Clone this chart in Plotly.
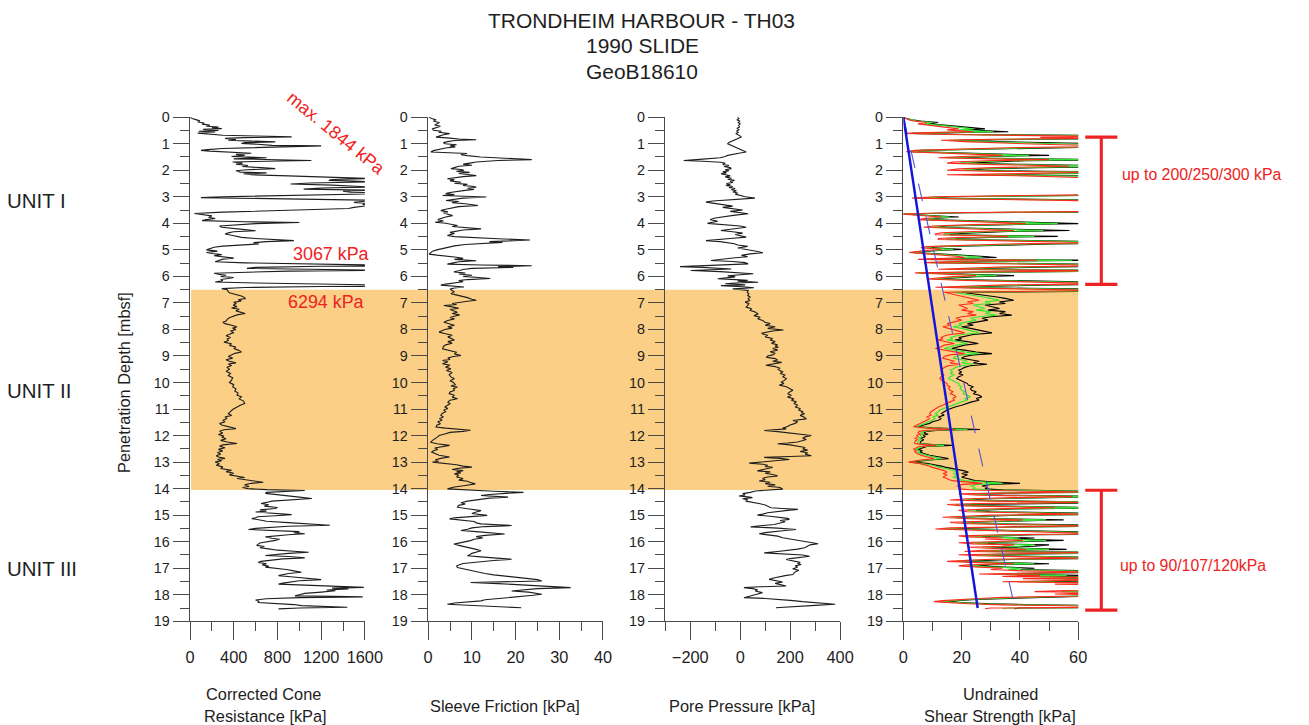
import plotly.graph_objects as go

# Layout helpers: positions below are given in window pixels of the final view.
VIEW_W, VIEW_H = 1309, 725
VIEW_SCALE = 0.978        # page-to-view scale of the viewer
PAGE_MARGIN = 8           # default body margin of the html page
FIG_W, FIG_H = 1322, 733
FONT = "Liberation Sans, Arial, sans-serif"
INK = "#1e1e1e"
AXIS = "#4a4a4a"
RED = "#ee2222"
BAND = "#fbcf86"

# ---------------------------------------------------------------------------
# CPTu profile GeoB18610 (depth [m], value)
# ---------------------------------------------------------------------------
qc_profile = [
    (0.00, 0), (0.05, 20), (0.10, 60), (0.14, 90), (0.18, 70), (0.22, 130), (0.26, 110), (0.30, 180),
    (0.34, 150), (0.37, 260), (0.40, 200), (0.43, 290), (0.46, 120), (0.50, 260), (0.53, 80), (0.56, 230),
    (0.60, 70), (0.64, 160), (0.68, 300), (0.71, 600), (0.74, 930), (0.77, 500), (0.80, 320), (0.84, 420),
    (0.87, 350), (0.90, 560), (0.93, 780), (0.96, 500), (0.99, 470), (1.02, 620), (1.06, 750), (1.08, 1200),
    (1.11, 900), (1.14, 480), (1.18, 300), (1.22, 160), (1.25, 100), (1.28, 180), (1.32, 350), (1.36, 560),
    (1.40, 420), (1.44, 500), (1.48, 380), (1.53, 700), (1.57, 400), (1.60, 820), (1.63, 1110), (1.66, 700),
    (1.69, 390), (1.73, 480), (1.77, 420), (1.82, 530), (1.86, 480), (1.90, 650), (1.94, 780), (1.98, 520),
    (2.02, 420), (2.07, 460), (2.10, 700), (2.13, 490), (2.17, 560), (2.21, 900), (2.25, 1250), (2.29, 1500),
    (2.31, 1650), (2.35, 1300), (2.38, 1270), (2.41, 1500), (2.44, 1650), (2.48, 1100), (2.52, 920), (2.56, 1300),
    (2.60, 1500), (2.63, 1650), (2.67, 1200), (2.71, 1040), (2.75, 1650), (2.79, 1400), (2.83, 1470), (2.86, 1844),
    (2.89, 1650), (2.92, 1200), (2.96, 700), (3.00, 300), (3.03, 100), (3.06, 500), (3.09, 1100), (3.13, 1650),
    (3.17, 1600), (3.21, 1500), (3.25, 1620), (3.29, 1580), (3.32, 1650), (3.36, 1550), (3.40, 1500), (3.44, 1450),
    (3.48, 1100), (3.53, 700), (3.58, 300), (3.63, 40), (3.67, 120), (3.72, 200), (3.77, 170), (3.82, 230),
    (3.86, 150), (3.90, 110), (3.94, 500), (3.97, 1000), (4.01, 600), (4.06, 350), (4.10, 270), (4.15, 290),
    (4.19, 420), (4.23, 480), (4.28, 600), (4.32, 400), (4.36, 350), (4.40, 320), (4.45, 380), (4.49, 420),
    (4.53, 470), (4.57, 600), (4.61, 780), (4.65, 950), (4.69, 700), (4.73, 580), (4.78, 630), (4.82, 450),
    (4.86, 300), (4.90, 220), (4.95, 180), (5.00, 150), (5.05, 250), (5.10, 150), (5.14, 200), (5.18, 290),
    (5.22, 220), (5.27, 320), (5.31, 400), (5.35, 300), (5.40, 260), (5.45, 230), (5.49, 500), (5.53, 1100),
    (5.57, 1650), (5.60, 3067), (5.62, 1200), (5.66, 600), (5.70, 520), (5.73, 1100), (5.77, 1650), (5.80, 900),
    (5.84, 400), (5.88, 220), (5.92, 260), (5.96, 330), (6.00, 280), (6.04, 400), (6.08, 350), (6.12, 280),
    (6.16, 300), (6.21, 230), (6.25, 600), (6.29, 1400), (6.32, 1650), (6.35, 6294), (6.38, 1200), (6.42, 500),
    (6.46, 290), (6.50, 340), (6.55, 345), (6.62, 360), (6.68, 420), (6.74, 470), (6.80, 500), (6.84, 505),
    (6.88, 440), (6.93, 470), (6.98, 400), (7.03, 420), (7.09, 395), (7.14, 430), (7.19, 380), (7.24, 450),
    (7.30, 420), (7.35, 470), (7.40, 505), (7.45, 430), (7.50, 390), (7.56, 360), (7.62, 340), (7.68, 330),
    (7.73, 300), (7.78, 320), (7.84, 380), (7.90, 430), (7.95, 390), (8.00, 420), (8.06, 370), (8.12, 400),
    (8.18, 360), (8.24, 330), (8.30, 370), (8.36, 340), (8.42, 350), (8.48, 310), (8.54, 380), (8.60, 360),
    (8.66, 420), (8.72, 400), (8.78, 440), (8.85, 470), (8.90, 410), (8.96, 380), (9.02, 350), (9.08, 390),
    (9.14, 330), (9.20, 360), (9.26, 420), (9.30, 350), (9.36, 380), (9.42, 340), (9.50, 360), (9.58, 330),
    (9.66, 370), (9.74, 350), (9.82, 390), (9.91, 380), (10.00, 360), (10.08, 400), (10.16, 390), (10.24, 420),
    (10.32, 410), (10.40, 440), (10.48, 430), (10.54, 470), (10.62, 450), (10.70, 490), (10.79, 500), (10.86, 460),
    (10.94, 420), (11.02, 390), (11.10, 370), (11.17, 350), (11.24, 380), (11.30, 320), (11.36, 340), (11.42, 300),
    (11.48, 320), (11.55, 270), (11.60, 290), (11.65, 330), (11.70, 380), (11.74, 420), (11.78, 310), (11.84, 270),
    (11.90, 300), (11.96, 260), (12.02, 310), (12.06, 290), (12.12, 330), (12.18, 280), (12.24, 340), (12.30, 430),
    (12.35, 300), (12.40, 270), (12.46, 320), (12.52, 260), (12.58, 300), (12.64, 250), (12.70, 280), (12.76, 240),
    (12.81, 260), (12.86, 320), (12.90, 250), (12.95, 290), (13.00, 230), (13.06, 270), (13.12, 240), (13.18, 300),
    (13.24, 280), (13.31, 380), (13.36, 330), (13.42, 400), (13.48, 360), (13.54, 440), (13.58, 500), (13.62, 430),
    (13.67, 520), (13.72, 600), (13.76, 670), (13.80, 560), (13.86, 500), (13.92, 540), (13.96, 480), (14.00, 530),
    (14.04, 700), (14.07, 1050), (14.10, 900), (14.14, 700), (14.18, 690), (14.22, 800), (14.27, 900), (14.32, 1000),
    (14.37, 1115), (14.42, 900), (14.47, 750), (14.52, 700), (14.56, 650), (14.61, 720), (14.66, 680), (14.71, 800),
    (14.75, 780), (14.80, 640), (14.85, 700), (14.88, 600), (14.93, 750), (14.98, 930), (15.02, 780), (15.06, 620),
    (15.10, 600), (15.13, 565), (15.18, 640), (15.23, 700), (15.28, 900), (15.33, 1100), (15.38, 1280), (15.42, 900),
    (15.46, 700), (15.50, 600), (15.54, 535), (15.58, 800), (15.62, 1000), (15.66, 950), (15.70, 1050), (15.74, 900),
    (15.78, 800), (15.82, 690), (15.87, 750), (15.91, 820), (15.95, 780), (16.00, 700), (16.05, 640), (16.10, 620),
    (16.14, 610), (16.18, 680), (16.23, 640), (16.27, 720), (16.32, 800), (16.36, 950), (16.40, 1085), (16.44, 900),
    (16.48, 760), (16.52, 690), (16.56, 900), (16.61, 1050), (16.65, 850), (16.70, 700), (16.74, 650), (16.78, 625),
    (16.83, 700), (16.88, 660), (16.92, 720), (16.96, 690), (17.00, 800), (17.05, 880), (17.10, 950), (17.15, 1020),
    (17.20, 900), (17.25, 850), (17.28, 810), (17.32, 920), (17.37, 1050), (17.43, 1200), (17.47, 1000), (17.52, 900),
    (17.56, 850), (17.60, 810), (17.64, 1100), (17.68, 1400), (17.72, 1590), (17.75, 1300), (17.78, 1450), (17.82, 1250),
    (17.85, 1330), (17.90, 1200), (17.95, 1050), (18.00, 1000), (18.04, 960), (18.06, 1300), (18.08, 1580), (18.11, 1000),
    (18.15, 700), (18.20, 600), (18.25, 630), (18.29, 625), (18.33, 800), (18.37, 950), (18.41, 1020), (18.44, 1250),
    (18.47, 1440), (18.50, 1000), (18.53, 810),
]

fs_profile = [
    (0.00, 0.2), (0.05, 0.8), (0.10, 1.8), (0.15, 1.2), (0.20, 2.6), (0.24, 2.2), (0.29, 1.5), (0.34, 2.8),
    (0.39, 1.9), (0.44, 1.0), (0.49, 1.2), (0.53, 3.0), (0.57, 2.4), (0.62, 4.9), (0.66, 3.5), (0.70, 2.6),
    (0.75, 1.8), (0.79, 5.0), (0.82, 7.0), (0.85, 11.0), (0.88, 6.0), (0.92, 4.5), (0.96, 3.5), (1.00, 3.9),
    (1.04, 6.5), (1.08, 5.0), (1.12, 6.2), (1.16, 4.0), (1.20, 2.5), (1.26, 1.2), (1.31, 0.6), (1.34, 5.0),
    (1.37, 8.9), (1.41, 7.5), (1.45, 9.0), (1.50, 12.0), (1.55, 17.0), (1.60, 23.7), (1.63, 16.0), (1.66, 12.0),
    (1.69, 11.0), (1.73, 9.5), (1.77, 8.0), (1.81, 10.0), (1.85, 7.0), (1.90, 6.0), (1.94, 5.2), (1.97, 7.5),
    (2.00, 8.2), (2.04, 6.5), (2.08, 9.5), (2.12, 7.0), (2.16, 9.0), (2.20, 11.0), (2.24, 8.0), (2.28, 6.0),
    (2.32, 4.4), (2.36, 6.0), (2.40, 5.0), (2.45, 7.5), (2.49, 6.0), (2.53, 9.0), (2.57, 8.0), (2.61, 10.5),
    (2.64, 11.0), (2.68, 9.0), (2.72, 10.5), (2.76, 8.5), (2.80, 6.5), (2.84, 5.0), (2.88, 4.0), (2.92, 6.0),
    (2.95, 3.3), (2.98, 9.0), (3.01, 13.3), (3.05, 8.0), (3.09, 6.0), (3.14, 4.1), (3.18, 7.0), (3.22, 5.5),
    (3.26, 8.5), (3.30, 10.0), (3.33, 11.4), (3.37, 7.0), (3.42, 5.0), (3.47, 4.0), (3.52, 2.9), (3.57, 4.5),
    (3.61, 3.5), (3.66, 4.8), (3.71, 5.6), (3.76, 4.0), (3.81, 3.0), (3.86, 2.2), (3.91, 3.5), (3.96, 1.6),
    (4.00, 4.0), (4.04, 5.0), (4.08, 6.7), (4.12, 5.5), (4.16, 9.0), (4.21, 12.1), (4.25, 8.0), (4.30, 6.5),
    (4.34, 5.0), (4.38, 6.0), (4.42, 5.2), (4.46, 4.4), (4.50, 6.0), (4.54, 10.0), (4.58, 16.0), (4.63, 23.3),
    (4.66, 20.0), (4.69, 14.0), (4.72, 17.0), (4.76, 11.0), (4.80, 8.5), (4.85, 6.0), (4.90, 4.5), (4.95, 3.0),
    (5.00, 2.0), (5.05, 1.0), (5.10, 0.5), (5.16, 0.2), (5.20, 2.0), (5.24, 4.9), (5.28, 6.5), (5.32, 8.0),
    (5.36, 6.0), (5.41, 11.0), (5.45, 7.0), (5.50, 5.5), (5.54, 4.4), (5.57, 12.0), (5.60, 23.7), (5.63, 16.0),
    (5.66, 19.5), (5.70, 10.0), (5.74, 8.0), (5.79, 7.0), (5.83, 5.9), (5.87, 8.5), (5.91, 7.0), (5.96, 10.0),
    (6.00, 8.0), (6.04, 11.5), (6.08, 14.2), (6.12, 9.0), (6.16, 7.0), (6.20, 8.0), (6.25, 5.0), (6.29, 4.0),
    (6.33, 2.9), (6.36, 5.5), (6.40, 8.2), (6.44, 6.0), (6.48, 5.0), (6.53, 5.5), (6.58, 6.0), (6.65, 5.2),
    (6.70, 6.5), (6.75, 8.0), (6.80, 9.0), (6.86, 10.0), (6.90, 11.0), (6.94, 9.0), (6.98, 7.0), (7.02, 5.5),
    (7.06, 6.5), (7.10, 3.6), (7.15, 5.5), (7.20, 7.0), (7.25, 5.0), (7.30, 6.0), (7.35, 6.7), (7.40, 5.5),
    (7.45, 7.2), (7.50, 6.0), (7.55, 5.0), (7.60, 6.0), (7.66, 4.5), (7.73, 3.6), (7.79, 5.0), (7.84, 6.0),
    (7.90, 4.5), (7.95, 5.5), (8.00, 3.8), (8.05, 3.0), (8.10, 2.5), (8.16, 4.0), (8.22, 5.5), (8.28, 4.5),
    (8.35, 5.2), (8.40, 6.0), (8.46, 4.5), (8.52, 5.5), (8.58, 4.0), (8.64, 3.5), (8.73, 3.3), (8.80, 5.0),
    (8.86, 6.5), (8.92, 6.0), (8.98, 7.5), (9.03, 5.5), (9.08, 4.5), (9.13, 5.0), (9.17, 3.3), (9.22, 4.5),
    (9.29, 3.3), (9.35, 5.0), (9.42, 4.0), (9.48, 5.2), (9.55, 4.2), (9.62, 5.5), (9.70, 4.8), (9.79, 5.2),
    (9.86, 6.0), (9.93, 5.0), (10.00, 5.8), (10.08, 6.2), (10.13, 5.2), (10.17, 6.7), (10.23, 5.8), (10.30, 6.0),
    (10.36, 5.0), (10.42, 4.8), (10.48, 6.0), (10.55, 5.5), (10.61, 6.7), (10.67, 5.0), (10.74, 4.5), (10.80, 5.0),
    (10.86, 4.4), (10.92, 3.8), (10.98, 4.5), (11.04, 3.6), (11.10, 4.0), (11.17, 3.2), (11.24, 2.9), (11.30, 3.5),
    (11.36, 2.6), (11.42, 3.2), (11.48, 2.2), (11.55, 2.8), (11.61, 2.0), (11.68, 1.8), (11.72, 4.0), (11.76, 7.5),
    (11.80, 9.7), (11.84, 8.0), (11.88, 5.0), (11.94, 3.8), (12.00, 2.5), (12.06, 2.1), (12.12, 1.5), (12.18, 1.0),
    (12.25, 0.6), (12.31, 2.0), (12.37, 4.9), (12.42, 3.0), (12.47, 1.5), (12.52, 2.2), (12.57, 1.2), (12.62, 0.8),
    (12.68, 1.5), (12.74, 2.5), (12.81, 4.9), (12.86, 2.8), (12.92, 1.6), (12.97, 2.4), (13.00, 1.0), (13.05, 4.0),
    (13.10, 6.5), (13.15, 8.0), (13.19, 10.0), (13.23, 7.0), (13.28, 5.5), (13.32, 8.0), (13.37, 6.5), (13.41, 7.5),
    (13.44, 6.0), (13.50, 7.0), (13.56, 6.5), (13.60, 7.5), (13.63, 8.0), (13.68, 7.0), (13.72, 9.0), (13.76, 9.5),
    (13.82, 10.8), (13.88, 8.5), (13.94, 6.0), (14.01, 4.4), (14.06, 9.0), (14.10, 15.0), (14.14, 21.8), (14.18, 16.0),
    (14.22, 14.0), (14.26, 12.1), (14.29, 15.0), (14.32, 18.3), (14.36, 14.0), (14.42, 11.0), (14.47, 9.0), (14.53, 7.5),
    (14.58, 8.5), (14.63, 7.0), (14.70, 6.7), (14.76, 9.0), (14.83, 12.1), (14.88, 11.0), (14.94, 10.0), (15.01, 13.5),
    (15.06, 9.0), (15.10, 6.0), (15.14, 4.9), (15.19, 8.0), (15.24, 10.5), (15.29, 11.0), (15.33, 12.1), (15.36, 16.0),
    (15.39, 19.1), (15.43, 13.0), (15.48, 10.0), (15.53, 9.0), (15.58, 7.5), (15.62, 11.0), (15.66, 14.0), (15.71, 17.5),
    (15.76, 13.0), (15.81, 11.0), (15.86, 12.5), (15.91, 10.5), (15.96, 9.7), (16.01, 8.0), (16.05, 7.0), (16.09, 5.9),
    (16.14, 7.0), (16.19, 8.5), (16.24, 10.0), (16.29, 11.0), (16.34, 12.1), (16.39, 11.0), (16.44, 10.0), (16.49, 9.5),
    (16.53, 9.0), (16.57, 12.0), (16.62, 15.0), (16.66, 19.1), (16.71, 15.0), (16.76, 11.0), (16.82, 8.0), (16.88, 7.0),
    (16.92, 6.5), (16.97, 6.7), (17.02, 8.0), (17.07, 9.5), (17.12, 10.5), (17.16, 11.3), (17.20, 13.0), (17.25, 15.0),
    (17.29, 17.5), (17.34, 20.0), (17.38, 23.0), (17.43, 25.0), (17.48, 26.0), (17.51, 15.0), (17.54, 9.7), (17.58, 16.0),
    (17.63, 22.0), (17.68, 28.0), (17.73, 32.6), (17.77, 25.0), (17.81, 22.0), (17.86, 19.1), (17.90, 23.0), (17.94, 25.0),
    (17.98, 26.0), (18.02, 24.0), (18.06, 21.0), (18.10, 18.0), (18.15, 14.0), (18.19, 13.0), (18.23, 12.1), (18.27, 9.0),
    (18.31, 6.0), (18.36, 4.4), (18.40, 10.0), (18.44, 16.0), (18.49, 21.3),
]

u2_profile = [
    (0.00, -10), (0.05, -5), (0.10, -12), (0.15, -2), (0.20, -8), (0.25, 0), (0.30, -6), (0.37, -3),
    (0.42, -12), (0.47, -5), (0.52, -14), (0.57, -8), (0.62, -16), (0.67, -4), (0.72, 2), (0.75, 4),
    (0.80, -10), (0.85, -20), (0.90, -35), (0.95, -45), (1.00, -50), (1.04, -40), (1.08, -30), (1.12, -23),
    (1.17, -10), (1.22, 5), (1.27, 15), (1.31, 24), (1.35, 0), (1.40, -30), (1.44, -50), (1.48, -60),
    (1.53, -80), (1.58, -150), (1.63, -226), (1.66, -150), (1.70, -77), (1.74, -60), (1.78, -70), (1.82, -45),
    (1.86, -65), (1.90, -40), (1.94, -36), (1.98, -60), (2.02, -45), (2.06, -70), (2.10, -55), (2.13, -77),
    (2.17, -50), (2.21, -40), (2.25, -60), (2.30, -35), (2.34, -50), (2.38, -23), (2.42, -40), (2.46, -30),
    (2.50, -55), (2.54, -40), (2.57, -57), (2.61, -30), (2.65, -45), (2.69, -20), (2.73, -35), (2.77, -15),
    (2.82, -29), (2.86, -10), (2.90, -20), (2.95, 0), (3.00, 20), (3.05, 59), (3.08, 0), (3.12, -60),
    (3.16, -110), (3.20, -137), (3.25, -100), (3.30, -60), (3.35, -30), (3.40, -70), (3.45, -20), (3.50, 10),
    (3.55, -40), (3.60, 0), (3.64, 32), (3.69, -20), (3.74, -60), (3.80, -100), (3.86, -120), (3.92, -90),
    (4.00, -131), (4.05, -60), (4.10, 0), (4.15, 24), (4.19, -10), (4.23, -50), (4.27, -77), (4.32, -30),
    (4.37, 10), (4.42, -20), (4.47, 5), (4.52, 24), (4.57, -40), (4.61, -100), (4.65, -137), (4.69, -80),
    (4.73, -40), (4.77, -23), (4.82, -10), (4.87, 30), (4.93, -10), (4.97, 20), (5.02, 50), (5.06, 70),
    (5.11, 91), (5.15, 40), (5.21, 5), (5.26, 30), (5.30, -20), (5.35, -70), (5.40, -117), (5.44, -30),
    (5.48, 20), (5.53, 32), (5.57, -60), (5.60, -180), (5.63, -241), (5.66, -150), (5.69, -80), (5.72, -36),
    (5.75, -120), (5.78, -198), (5.82, -80), (5.86, -10), (5.90, 52), (5.94, 0), (5.98, -50), (6.02, -20),
    (6.06, -70), (6.09, -90), (6.12, -20), (6.15, 30), (6.18, -10), (6.22, 72), (6.25, -20), (6.28, -60),
    (6.32, 20), (6.35, -77), (6.39, 10), (6.43, 55), (6.47, -30), (6.50, 10), (6.53, 32), (6.60, 28),
    (6.66, 35), (6.72, 30), (6.78, 40), (6.84, 32), (6.91, 38), (6.97, 20), (7.03, 35), (7.09, 30),
    (7.16, 24), (7.22, 45), (7.28, 40), (7.34, 60), (7.42, 72), (7.48, 55), (7.54, 80), (7.60, 70),
    (7.66, 90), (7.73, 99), (7.78, 120), (7.84, 100), (7.90, 140), (7.96, 110), (8.02, 173), (8.06, 130),
    (8.10, 100), (8.14, 86), (8.17, 90), (8.22, 110), (8.28, 100), (8.34, 130), (8.40, 120), (8.46, 140),
    (8.52, 125), (8.58, 150), (8.63, 140), (8.67, 153), (8.72, 130), (8.78, 150), (8.84, 120), (8.90, 140),
    (8.96, 130), (9.00, 110), (9.05, 106), (9.10, 140), (9.15, 150), (9.20, 130), (9.24, 166), (9.29, 140),
    (9.35, 103), (9.40, 140), (9.46, 160), (9.50, 150), (9.54, 157), (9.60, 170), (9.66, 160), (9.72, 180),
    (9.78, 170), (9.85, 185), (9.92, 177), (9.98, 165), (10.04, 175), (10.10, 157), (10.16, 185), (10.22, 195),
    (10.29, 211), (10.35, 200), (10.42, 190), (10.48, 205), (10.55, 190), (10.61, 215), (10.67, 205), (10.73, 225),
    (10.79, 215), (10.86, 231), (10.92, 220), (10.98, 240), (11.04, 235), (11.10, 250), (11.14, 245), (11.18, 258),
    (11.24, 240), (11.30, 255), (11.37, 265), (11.43, 211), (11.48, 230), (11.54, 220), (11.60, 200), (11.66, 190),
    (11.72, 170), (11.75, 184), (11.78, 130), (11.81, 96), (11.85, 150), (11.90, 200), (11.95, 250), (12.00, 285),
    (12.05, 260), (12.10, 250), (12.15, 265), (12.19, 244), (12.24, 230), (12.28, 190), (12.31, 150), (12.35, 200),
    (12.40, 240), (12.45, 260), (12.50, 251), (12.55, 270), (12.60, 240), (12.65, 270), (12.70, 260), (12.76, 285),
    (12.79, 200), (12.82, 96), (12.86, 160), (12.90, 197), (12.94, 150), (12.98, 100), (13.01, 60), (13.04, 36),
    (13.08, 90), (13.12, 110), (13.16, 100), (13.20, 130), (13.24, 110), (13.28, 90), (13.33, 69), (13.37, 120),
    (13.42, 100), (13.47, 130), (13.52, 150), (13.56, 110), (13.61, 90), (13.66, 100), (13.71, 76), (13.76, 120),
    (13.81, 100), (13.86, 140), (13.91, 110), (13.96, 160), (14.02, 170), (14.06, 100), (14.09, 62), (14.14, 40),
    (14.19, 10), (14.24, 20), (14.28, -5), (14.31, 30), (14.34, 49), (14.38, 10), (14.42, 30), (14.47, 22),
    (14.52, 60), (14.57, 80), (14.62, 100), (14.67, 110), (14.72, 123), (14.75, 170), (14.78, 231), (14.82, 190),
    (14.86, 140), (14.91, 110), (14.96, 90), (15.00, 69), (15.04, 120), (15.08, 170), (15.12, 190), (15.16, 197),
    (15.20, 160), (15.25, 180), (15.30, 150), (15.35, 137), (15.39, 90), (15.44, 42), (15.49, 150), (15.54, 224),
    (15.58, 180), (15.62, 120), (15.66, 100), (15.70, 76), (15.74, 120), (15.79, 150), (15.85, 170), (15.90, 200),
    (15.95, 220), (16.00, 250), (16.04, 290), (16.08, 312), (16.12, 280), (16.17, 270), (16.23, 258), (16.28, 230),
    (16.32, 200), (16.37, 150), (16.42, 96), (16.46, 200), (16.50, 250), (16.55, 278), (16.60, 220), (16.64, 200),
    (16.67, 184), (16.72, 210), (16.78, 240), (16.82, 230), (16.86, 244), (16.91, 220), (16.96, 230), (17.02, 210),
    (17.08, 235), (17.14, 220), (17.19, 215), (17.24, 211), (17.28, 180), (17.33, 150), (17.38, 130), (17.42, 116),
    (17.47, 150), (17.52, 170), (17.57, 140), (17.62, 170), (17.67, 184), (17.70, 80), (17.73, 15), (17.77, 50),
    (17.81, 70), (17.86, 60), (17.92, 89), (17.97, 70), (18.02, 50), (18.07, 30), (18.11, 15), (18.14, 100),
    (18.17, 170), (18.21, 200), (18.26, 250), (18.31, 330), (18.36, 380), (18.40, 300), (18.44, 200), (18.47, 160),
    (18.49, 143),
]

# Undrained shear strength for three cone factors (black / green / red)
su_depth_unit1 = [
    0.00, 0.05, 0.10, 0.15, 0.20, 0.25, 0.30, 0.35, 0.40, 0.44,
    0.48, 0.52, 0.55, 0.58, 0.61, 0.65, 0.68, 0.72, 0.76, 0.79,
    0.83, 0.87, 0.92, 0.97, 1.01, 1.05, 1.10, 1.14, 1.20, 1.25,
    1.30, 1.34, 1.39, 1.44, 1.48, 1.53, 1.57, 1.60, 1.64, 1.69,
    1.73, 1.78, 1.82, 1.85, 1.90, 1.95, 2.00, 2.04, 2.08, 2.13,
    2.17, 2.21, 2.25, 2.30, 2.35, 2.40, 2.45, 2.50, 2.55, 2.60,
    2.65, 2.70, 2.75, 2.80, 2.85, 2.90, 2.95, 3.00, 3.05, 3.10,
    3.15, 3.20, 3.25, 3.30, 3.35, 3.40, 3.45, 3.50, 3.55, 3.60,
    3.65, 3.70, 3.76, 3.81, 3.86, 3.91, 3.96, 4.01, 4.05, 4.10,
    4.15, 4.20, 4.24, 4.27, 4.31, 4.36, 4.40, 4.43, 4.46, 4.49,
    4.53, 4.57, 4.61, 4.65, 4.69, 4.73, 4.78, 4.83, 4.88, 4.92,
    4.95, 4.98, 5.02, 5.06, 5.10, 5.15, 5.20, 5.25, 5.29, 5.33,
    5.36, 5.39, 5.43, 5.48, 5.52, 5.56, 5.60, 5.64, 5.69, 5.73,
    5.76, 5.79, 5.83, 5.87, 5.91, 5.94, 5.97, 6.01, 6.06, 6.10,
    6.15, 6.20, 6.24, 6.28, 6.32, 6.37, 6.41, 6.45, 6.49, 6.53,
]
su_black_unit1 = [
    0, 1, 3, 6, 12, 8, 14, 20, 25, 28,
    22, 30, 36, 12, 3, 22, 48, 95, 70, 98,
    45, 19, 32, 48, 66, 85, 115, 60, 22, 6,
    3, 18, 36, 50, 30, 18, 45, 75, 42, 26,
    22, 42, 72, 85, 46, 28, 23, 48, 95, 42,
    23, 62, 140, 160, 125, 170, 145, 190, 160, 220,
    300, 170, 180, 140, 170, 130, 62, 16, 5, 50,
    115, 160, 185, 165, 210, 175, 195, 155, 105, 22,
    0, 10, 19, 12, 8, 25, 42, 62, 36, 15,
    11, 32, 46, 57, 36, 20, 16, 16, 36, 53,
    30, 18, 18, 42, 78, 95, 52, 25, 12, 9,
    14, 20, 12, 6, 3, 12, 22, 28, 32, 15,
    8, 68, 30, 11, 42, 85, 115, 52, 25, 18,
    52, 98, 42, 6, 20, 30, 38, 25, 15, 12,
    32, 58, 78, 105, 52, 25, 16, 42, 72, 105,
]
su_green_unit1 = [
    0, 1, 3, 5, 10, 7, 12, 17, 21, 24,
    19, 26, 31, 10, 3, 19, 41, 81, 60, 83,
    38, 16, 27, 41, 56, 72, 98, 51, 19, 5,
    3, 15, 31, 43, 26, 15, 38, 64, 36, 22,
    19, 36, 61, 72, 39, 24, 20, 41, 81, 36,
    20, 53, 119, 136, 106, 145, 123, 162, 136, 187,
    250, 145, 153, 119, 145, 111, 53, 14, 4, 43,
    98, 136, 157, 140, 178, 149, 166, 132, 89, 19,
    0, 9, 16, 10, 7, 21, 36, 53, 31, 13,
    9, 27, 39, 48, 31, 17, 14, 14, 31, 45,
    26, 15, 15, 36, 66, 81, 44, 21, 10, 8,
    12, 17, 10, 5, 3, 10, 19, 24, 27, 13,
    7, 58, 26, 9, 36, 72, 98, 44, 21, 15,
    44, 83, 36, 5, 17, 26, 32, 21, 13, 10,
    27, 49, 66, 89, 44, 21, 14, 36, 61, 89,
]
su_red_unit1 = [
    0, 1, 2, 4, 8, 5, 9, 13, 17, 19,
    15, 20, 24, 8, 1, 15, 32, 64, 47, 66,
    30, 13, 21, 32, 44, 57, 77, 40, 15, 4,
    1, 12, 24, 34, 20, 12, 30, 50, 28, 17,
    15, 28, 48, 57, 31, 19, 15, 32, 64, 28,
    15, 42, 94, 107, 84, 114, 97, 127, 107, 147,
    200, 114, 121, 94, 114, 87, 42, 11, 3, 34,
    77, 107, 124, 111, 141, 117, 131, 104, 70, 15,
    -1, 7, 13, 8, 5, 17, 28, 42, 24, 10,
    7, 21, 31, 38, 24, 13, 11, 11, 24, 36,
    20, 12, 12, 28, 52, 64, 35, 17, 8, 6,
    9, 13, 8, 4, 2, 8, 15, 19, 21, 10,
    5, 46, 20, 7, 28, 57, 77, 35, 17, 12,
    35, 66, 28, 4, 13, 20, 25, 17, 10, 8,
    21, 39, 52, 70, 35, 17, 11, 28, 48, 70,
]

su_depth_unit2 = [
    6.60, 6.65, 6.70, 6.77, 6.83, 6.90, 6.96, 7.02, 7.08, 7.15,
    7.21, 7.27, 7.33, 7.40, 7.46, 7.52, 7.58, 7.65, 7.72, 7.78,
    7.84, 7.90, 7.96, 8.02, 8.08, 8.13, 8.19, 8.25, 8.31, 8.36,
    8.40, 8.46, 8.53, 8.59, 8.65, 8.72, 8.78, 8.85, 8.91, 8.96,
    9.02, 9.08, 9.14, 9.20, 9.26, 9.31, 9.37, 9.43, 9.49, 9.54,
    9.60, 9.66, 9.72, 9.78, 9.85, 9.91, 9.97, 10.04, 10.10, 10.16,
    10.22, 10.29, 10.35, 10.42, 10.48, 10.54, 10.60, 10.67, 10.73, 10.79,
    10.86, 10.92, 10.98, 11.04, 11.10, 11.17, 11.23, 11.30, 11.36, 11.42,
    11.48, 11.54, 11.60, 11.67, 11.71, 11.74, 11.77, 11.80, 11.84, 11.90,
    11.95, 11.99, 12.04, 12.10, 12.16, 12.22, 12.30, 12.34, 12.37, 12.41,
    12.46, 12.52, 12.57, 12.62, 12.68, 12.74, 12.80, 12.87, 12.92, 12.96,
    13.00, 13.05, 13.10, 13.15, 13.19, 13.24, 13.29, 13.33, 13.38, 13.43,
    13.48, 13.52, 13.57, 13.62, 13.66, 13.70, 13.74, 13.77, 13.80, 13.84,
    13.90, 13.96, 14.01, 14.05,
]
su_black_unit2 = [
    20, 24, 28, 31.6, 35, 37.9, 33, 35, 28, 30.4,
    33, 29, 35, 33, 37.2, 30, 27, 29, 25.7, 22,
    24, 20, 23, 26, 28, 30.4, 24, 21, 19, 20,
    17.7, 22, 25.7, 21, 19, 16.6, 21, 25, 30.4, 24,
    21, 20, 23, 26, 24, 28.7, 23, 21, 20, 18.9,
    20, 19, 20.5, 19, 18.3, 19.5, 21, 22, 22.3, 24,
    23, 23.4, 25, 24, 26, 26.9, 25, 26, 23.4, 22,
    20, 17.7, 16, 15, 14, 13.1, 14, 12, 13, 12,
    10, 9, 7, 5.1, 10, 20, 26.3, 12, 8, 7,
    8.5, 6.8, 7.5, 6, 7, 6, 5.7, 10, 16.6, 8,
    6.5, 5, 6.5, 5.7, 7, 9, 12, 15.5, 9, 5,
    2.6, 8, 11, 13, 14.3, 17, 19, 21, 22.3, 20,
    22, 21, 20, 22, 23, 24.6, 30, 36, 40, 30,
    27, 29, 28, 35,
]
su_green_unit2 = [
    17, 20, 24, 27, 30, 33, 28, 30, 24, 26,
    28, 25, 30, 28, 32, 26, 23, 25, 22, 19,
    20, 17, 20, 22, 24, 26, 20, 18, 16, 17,
    15, 19, 22, 18, 16, 14, 18, 21, 26, 20,
    18, 17, 20, 22, 20, 24, 20, 18, 17, 16,
    17, 16, 17.5, 16, 15.5, 16.5, 18, 19, 19, 20,
    19.5, 20, 21, 20.5, 22, 23, 21, 22, 20, 18.5,
    17, 15, 13.5, 12.5, 12, 11, 12, 10, 11, 10,
    8.5, 7.5, 6, 4.3, 8.5, 17, 22, 10, 7, 6,
    7, 5.8, 6.4, 5, 6, 5, 4.8, 8.5, 14, 6.8,
    5.5, 4.2, 5.5, 4.8, 6, 7.6, 10, 13, 7.6, 4.2,
    2.2, 6.8, 9.4, 11, 12, 14.5, 16, 18, 19, 17,
    18.7, 18, 17, 18.7, 19.5, 21, 25.5, 30.6, 34, 25.5,
    23, 24.6, 23.8, 30,
]
su_red_unit2 = [
    14, 16, 19, 21.5, 24, 26, 22, 24, 19, 21,
    22, 20, 24, 22, 25, 20, 18, 20, 17.5, 15,
    16, 13.5, 15.5, 17.5, 19, 21, 16, 14, 13, 13.5,
    12, 15, 17.5, 14, 13, 11, 14, 17, 21, 16,
    14, 13.5, 15.5, 17.5, 16, 19.5, 15.5, 14, 13.5, 13,
    13.5, 13, 14, 13, 12.5, 13, 14, 15, 15, 16,
    15.5, 16, 17, 16, 17.5, 18, 17, 17.5, 16, 15,
    13.5, 12, 11, 10, 9.5, 9, 9.5, 8, 9, 8,
    7, 6, 5, 3.5, 7, 13.5, 18, 8, 5.5, 5,
    6, 4.6, 5, 4, 4.8, 4, 3.9, 7, 11.3, 5.4,
    4.4, 3.4, 4.4, 3.9, 4.8, 6, 8, 10.5, 6, 3.4,
    1.8, 5.5, 7.5, 8.8, 9.7, 11.5, 13, 14.3, 15, 13.6,
    15, 14.3, 13.6, 15, 15.6, 16.7, 20.4, 24.5, 27, 20.4,
    18.4, 19.7, 19, 24,
]

su_depth_unit3 = [
    14.08, 14.12, 14.16, 14.20, 14.25, 14.30, 14.34, 14.38, 14.43, 14.47,
    14.52, 14.56, 14.60, 14.64, 14.68, 14.72, 14.77, 14.82, 14.87, 14.91,
    14.96, 15.00, 15.04, 15.08, 15.13, 15.18, 15.22, 15.27, 15.32, 15.36,
    15.40, 15.44, 15.48, 15.52, 15.56, 15.60, 15.65, 15.70, 15.74, 15.78,
    15.82, 15.86, 15.90, 15.95, 16.00, 16.04, 16.08, 16.12, 16.17, 16.21,
    16.25, 16.29, 16.33, 16.37, 16.41, 16.45, 16.49, 16.53, 16.58, 16.62,
    16.66, 16.70, 16.74, 16.79, 16.83, 16.87, 16.91, 16.96, 17.00, 17.05,
    17.10, 17.14, 17.18, 17.22, 17.27, 17.31, 17.35, 17.39, 17.43, 17.47,
    17.51, 17.56, 17.60, 17.64, 17.68, 17.72, 17.76, 17.80, 17.84, 17.88,
    17.92, 17.97, 18.02, 18.06, 18.10, 18.14, 18.18, 18.22, 18.26, 18.30,
    18.34, 18.38, 18.42, 18.46, 18.50, 18.53,
]
su_black_unit3 = [
    45, 80, 40, 25, 35, 78, 50, 30, 22, 40,
    85, 35, 20, 25, 45, 70, 38, 25, 30, 50,
    80, 40, 25, 18, 30, 55, 40, 22, 30, 50,
    88, 40, 22, 15, 30, 45, 62, 90, 45, 25,
    30, 45, 38, 55, 40, 25, 32, 50, 45, 30,
    42, 56, 35, 28, 85, 40, 25, 35, 55, 82,
    40, 25, 20, 35, 50, 30, 25, 35, 45, 40,
    55, 85, 50, 35, 62, 45, 88, 55, 92, 60,
    45, 100, 70, 120, 90, 110, 80, 95, 75, 60,
    90, 70, 100, 60, 45, 35, 25, 18, 14, 22,
    30, 45, 70, 110, 40, 38,
]
su_green_unit3 = [
    40, 72, 36, 22, 31, 70, 45, 27, 20, 36,
    76, 31, 18, 22, 40, 63, 34, 22, 27, 45,
    72, 36, 22, 16, 27, 49, 36, 20, 27, 45,
    79, 36, 20, 13.5, 27, 40, 56, 81, 40, 22,
    27, 40, 34, 49, 36, 22, 29, 45, 40, 27,
    38, 50, 31, 25, 76, 36, 22, 31, 49, 74,
    36, 22, 18, 31, 45, 27, 22, 31, 40, 36,
    49, 76, 45, 31, 56, 40, 79, 49, 83, 54,
    40, 90, 63, 107, 81, 99, 72, 85, 67, 54,
    81, 63, 90, 54, 40, 31, 22, 16, 12.6, 20,
    27, 40, 63, 99, 36, 34,
]
su_red_unit3 = [
    34, 60, 30, 19, 26, 58, 38, 22, 16, 30,
    64, 26, 15, 19, 34, 52, 28, 19, 22, 38,
    60, 30, 19, 13.5, 22, 41, 30, 16, 22, 38,
    66, 30, 16, 11, 22, 34, 47, 68, 34, 19,
    22, 34, 28, 41, 30, 19, 24, 38, 34, 22,
    31, 42, 26, 21, 64, 30, 19, 26, 41, 61,
    30, 19, 15, 26, 38, 22, 19, 26, 34, 30,
    41, 64, 38, 26, 47, 34, 66, 41, 69, 45,
    34, 75, 52, 90, 67, 82, 60, 71, 56, 45,
    67, 52, 75, 45, 34, 26, 19, 13.5, 10.5, 16,
    22, 34, 52, 82, 30, 28,
]

# Reference su trends with depth
trend_depth = [0.0, 18.5]
trend_lower_su = [0.0, 25.5]
trend_upper_su = [0.0, 38.3]

# Depths flagged with values beyond the plotted range
qc_flag_depths = [2.88, 5.52, 6.40]
su_flag_depths = [3.66, 15.94]

# Lithological units (depth interval of unit II)
unit2_top, unit2_base = 6.5, 14.05

# ---------------------------------------------------------------------------
su_depth = su_depth_unit1 + su_depth_unit2 + su_depth_unit3
su_black = su_black_unit1 + su_black_unit2 + su_black_unit3
su_green = su_green_unit1 + su_green_unit2 + su_green_unit3
su_red = su_red_unit1 + su_red_unit2 + su_red_unit3
assert len(su_depth) == len(su_black) == len(su_green) == len(su_red)


def fig_px(v):
    """view pixel -> figure pixel"""
    return v / VIEW_SCALE - PAGE_MARGIN


def px(x):
    return fig_px(x) / FIG_W


def py(y):
    return 1 - fig_px(y) / FIG_H


def sz(v):
    """view size -> figure size (fonts, tick lengths, line widths)"""
    return v / VIEW_SCALE


PANEL_X = [192, 429, 665, 902]
PANEL_W = 174
TOP, BOTTOM = 117, 621

fig = go.Figure()


def add_profile(xs, ys, n, color, width=1.1, dash=None):
    sfx = "" if n == 1 else str(n)
    fig.add_trace(go.Scatter(
        x=xs, y=ys, xaxis="x" + sfx, yaxis="y" + sfx, mode="lines",
        line=dict(color=color, width=sz(width), dash=dash),
        hoverinfo="skip", showlegend=False))


add_profile([v for _, v in qc_profile], [d for d, _ in qc_profile], 1, INK)
add_profile([v for _, v in fs_profile], [d for d, _ in fs_profile], 2, INK)
add_profile([v for _, v in u2_profile], [d for d, _ in u2_profile], 3, INK)
add_profile(su_black, su_depth, 4, "#000000", 1.1)
add_profile(su_green, su_depth, 4, "#33e633", 1.1)
add_profile(su_red, su_depth, 4, "#ff2a1f", 1.1)
add_profile(trend_upper_su, trend_depth, 4, "#5555d5", 1.1, "18px,16px")
add_profile(trend_lower_su, trend_depth, 4, "#1414dc", 2.4)

# red star flags
fig.add_trace(go.Scatter(
    x=[1700] * len(qc_flag_depths), y=qc_flag_depths, xaxis="x", yaxis="y",
    mode="markers", marker=dict(symbol="star", size=sz(24), color=RED, line=dict(width=0)),
    cliponaxis=False, hoverinfo="skip", showlegend=False))
fig.add_trace(go.Scatter(
    x=[76] * len(su_flag_depths), y=su_flag_depths, xaxis="x4", yaxis="y4",
    mode="markers", marker=dict(symbol="star", size=sz(22), color=RED, line=dict(width=0)),
    cliponaxis=False, hoverinfo="skip", showlegend=False))

x_specs = [
    dict(range=[0, 1600], dtick=400, tick0=0, minor_dtick=200),
    dict(range=[0, 40], dtick=10, tick0=0, minor_dtick=5),
    dict(range=[-300, 400], dtick=200, tick0=0, minor_dtick=100),
    dict(range=[0, 60], dtick=20, tick0=0, minor_dtick=10),
]

layout = dict(
    width=FIG_W, height=FIG_H, margin=dict(l=0, r=0, t=0, b=0),
    paper_bgcolor="white", plot_bgcolor="rgba(0,0,0,0)",
    font=dict(family=FONT, color=INK), showlegend=False,
)

for i, spec in enumerate(x_specs):
    n = i + 1
    sfx = "" if n == 1 else str(n)
    left = PANEL_X[i]
    layout["xaxis" + sfx] = dict(
        domain=[px(left), px(left + PANEL_W)], range=spec["range"], anchor="y" + sfx,
        showline=True, linecolor=AXIS, linewidth=sz(1.3), mirror=False,
        ticks="outside", ticklen=sz(17), tickwidth=sz(1.3), tickcolor=AXIS,
        dtick=spec["dtick"], tick0=spec["tick0"],
        minor=dict(ticks="outside", ticklen=sz(8), tickwidth=sz(1.3), tickcolor=AXIS,
                   dtick=spec["minor_dtick"], tick0=0, showgrid=False),
        showgrid=False, zeroline=False, ticklabelstandoff=4,
        tickfont=dict(size=sz(16), color=INK, family=FONT), fixedrange=True,
    )
    layout["yaxis" + sfx] = dict(
        domain=[py(BOTTOM), py(TOP)], range=[19, 0], anchor="x" + sfx,
        showline=True, linecolor=AXIS, linewidth=sz(1.3),
        ticks="outside", ticklen=sz(16), tickwidth=sz(1.3), tickcolor=AXIS,
        dtick=1, tick0=0,
        minor=dict(ticks="outside", ticklen=sz(9), tickwidth=sz(1.3), tickcolor=AXIS,
                   dtick=0.5, tick0=0, showgrid=False),
        showgrid=False, zeroline=False,
        tickfont=dict(size=sz(14), color=INK, family=FONT), fixedrange=True,
    )

shapes = [
    # unit II band across all panels
    dict(type="rect", xref="paper", yref="y", x0=px(193), x1=px(1076),
         y0=unit2_top, y1=unit2_base, fillcolor=BAND, line=dict(width=0), layer="below"),
]
# range brackets next to the su panel
for d0, d1 in [(0.75, 6.3), (14.06, 18.58)]:
    shapes.append(dict(type="line", xref="paper", yref="y4", x0=px(1099), x1=px(1099),
                       y0=d0, y1=d1, line=dict(color=RED, width=sz(3))))
    for d in (d0, d1):
        shapes.append(dict(type="line", xref="paper", yref="y4", x0=px(1083), x1=px(1115),
                           y0=d, y1=d, line=dict(color=RED, width=sz(3))))
layout["shapes"] = shapes


def label(text, x, y, size=16, color=INK, xanchor="center", angle=0):
    return dict(text=text, x=px(x), y=py(y), xref="paper", yref="paper",
                xanchor=xanchor, yanchor="middle", showarrow=False, textangle=angle,
                font=dict(size=sz(size), color=color, family=FONT))


annotations = [
    label("TRONDHEIM HARBOUR - TH03", 641, 20, 20.5),
    label("1990 SLIDE", 642, 45, 20.5),
    label("GeoB18610", 642, 71, 20.5),
    label("UNIT I", 8, 200, 20, xanchor="left"),
    label("UNIT II", 8, 390, 20, xanchor="left"),
    label("UNIT III", 8, 568, 20, xanchor="left"),
    label("Penetration Depth [mbsf]", 127, 382, 16, angle=-90),
    label("Corrected Cone", 265, 694, 16),
    label("Resistance [kPa]", 267, 716, 16),
    label("Sleeve Friction [kPa]", 505, 706, 16),
    label("Pore Pressure [kPa]", 741, 706, 16),
    label("Undrained", 999, 694, 16),
    label("Shear Strength [kPa]", 998, 716, 16),
    label("max. 1844 kPa", 337, 133, 17.5, RED, angle=39),
    label("3067 kPa", 372, 254, 17.5, RED, xanchor="right"),
    label("6294 kPa", 367, 302, 17.5, RED, xanchor="right"),
    label("up to 200/250/300 kPa", 1118, 174, 15.5, RED, xanchor="left"),
    label("up to 90/107/120kPa", 1116, 565, 15.5, RED, xanchor="left"),
]
layout["annotations"] = annotations

fig.update_layout(**layout)
fig.write_html("out.html")
